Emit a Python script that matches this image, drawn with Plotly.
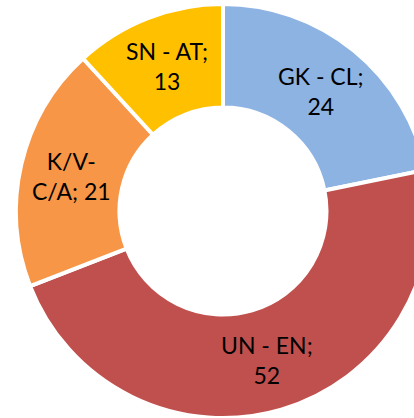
import math
import plotly.graph_objects as go

labels = ["GK - CL", "UN - EN", "K/V-C/A", "SN - AT"]
values = [24, 52, 21, 13]
label_lines = ["GK - CL;<br>", "UN - EN;<br>", "K/V-<br>C/A; ", "SN - AT;<br>"]
colors = ["#8DB3E2", "#C0504D", "#F79646", "#FFC000"]

W, H = 440, 430
cx, cy, r = 223, 211, 207
hole = 0.5

fig = go.Figure(go.Pie(
    labels=labels,
    values=values,
    textinfo="none",
    sort=False,
    direction="clockwise",
    rotation=0,
    hole=hole,
    marker=dict(colors=colors, line=dict(color="white", width=4)),
    showlegend=False,
    hoverinfo="label+value",
    domain=dict(x=[(cx - r) / W, (cx + r) / W], y=[(H - cy - r) / H, (H - cy + r) / H]),
))

# data labels at the middle of each ring segment (Excel style)
total = sum(values)
rl = (r + r * hole) / 2
cum = 0
for txt, v in zip(label_lines, values):
    mid = (cum + v / 2) / total * 2 * math.pi
    cum += v
    px = cx + rl * math.sin(mid)
    py = cy - rl * math.cos(mid)
    fig.add_annotation(
        x=px / W, y=1 - py / H, xref="paper", yref="paper",
        text=f"{txt}{v}", showarrow=False, xanchor="center", yanchor="middle",
        font=dict(family="Lato", size=23, color="black"),
    )

fig.update_layout(
    width=W, height=H,
    margin=dict(l=0, r=0, t=0, b=0),
    paper_bgcolor="white",
)
fig.write_html(
    "out.html",
    config={"displayModeBar": False},
    post_script="document.body.style.margin='0';document.body.style.overflow='hidden';document.documentElement.style.overflow='hidden';",
)
